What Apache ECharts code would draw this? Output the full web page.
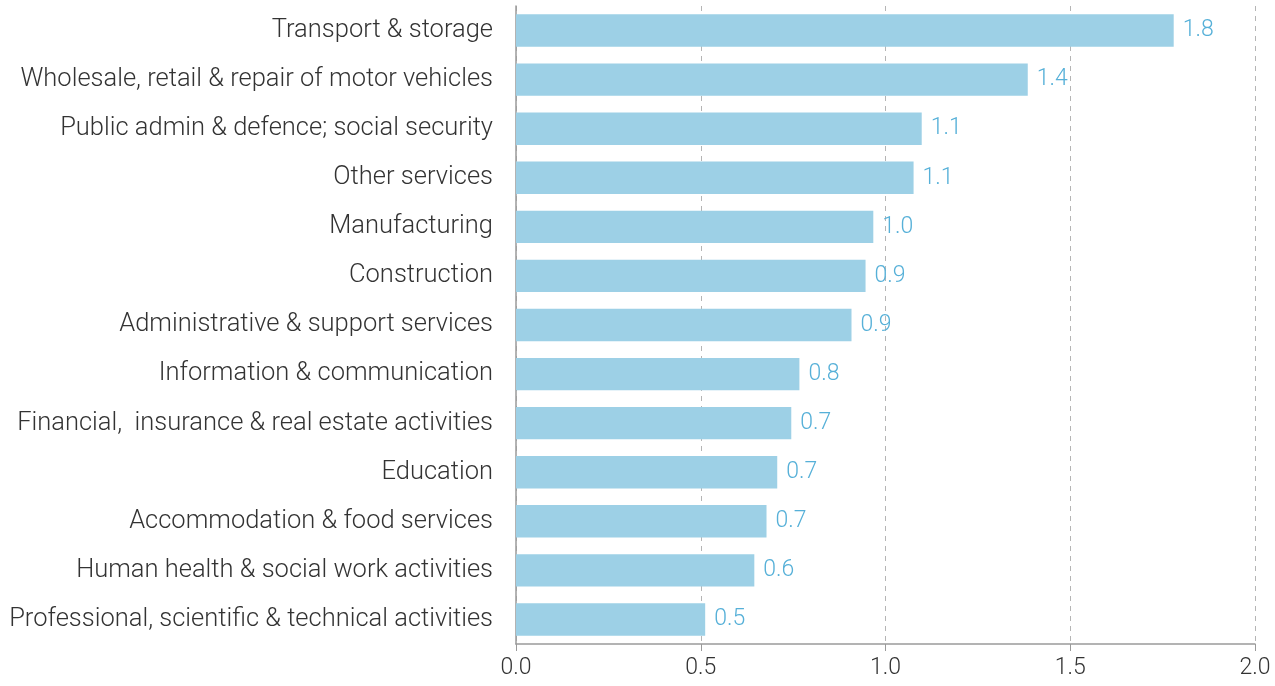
<!DOCTYPE html>
<html>
<head>
<meta charset="utf-8">
<style>
  html, body { margin: 0; padding: 0; background: #ffffff; }
  #chart { width: 1275px; height: 686px; }
</style>
<script src="https://cdn.jsdelivr.net/npm/echarts@6/dist/echarts.min.js"></script>
</head>
<body>
<div id="chart"></div>
<script>
// Sectors, listed top to bottom
const categories = [
  'Transport & storage',
  'Wholesale, retail & repair of motor vehicles',
  'Public admin & defence; social security',
  'Other services',
  'Manufacturing',
  'Construction',
  'Administrative & support services',
  'Information & communication',
  'Financial,  insurance & real estate activities',
  'Education',
  'Accommodation & food services',
  'Human health & social work activities',
  'Professional, scientific & technical activities'
];

// Value per sector, same order
const values = [1.78, 1.385, 1.098, 1.076, 0.967, 0.946, 0.908, 0.767, 0.745, 0.707, 0.678, 0.645, 0.512];

// Value axis ticks
const xTicks = [0, 0.5, 1.0, 1.5, 2.0];

const chart = echarts.init(document.getElementById('chart'), null, { renderer: 'canvas' });

const font = 'Roboto, "Noto Sans", sans-serif';

chart.setOption({
  animation: false,
  backgroundColor: '#ffffff',
  grid: { left: 516, right: 20, top: 6, bottom: 42, containLabel: false },
  xAxis: {
    type: 'value',
    min: xTicks[0],
    max: xTicks[xTicks.length - 1],
    interval: xTicks[1] - xTicks[0],
    axisLine: { show: true, lineStyle: { color: '#9a9a9a', width: 1.5 } },
    axisTick: { show: true, length: 7, lineStyle: { color: '#9a9a9a', width: 1 } },
    axisLabel: {
      margin: 13,
      color: '#333333',
      fontFamily: font,
      fontWeight: 300,
      fontSize: 23,
      formatter: v => v.toFixed(1)
    },
    splitLine: { show: true, lineStyle: { color: '#b5b5b5', type: [5, 5], width: 1 } }
  },
  yAxis: {
    type: 'category',
    inverse: true,
    data: categories,
    axisLine: { show: true, lineStyle: { color: '#9a9a9a', width: 1.5 } },
    axisTick: { show: false },
    axisLabel: {
      margin: 23,
      color: '#333333',
      fontFamily: font,
      fontWeight: 300,
      fontSize: 25.5
    }
  },
  series: [{
    type: 'bar',
    data: values,
    barCategoryGap: '34%',
    itemStyle: { color: '#9dd0e6' },
    label: {
      show: true,
      position: 'right',
      distance: 9,
      color: '#56b0d8',
      fontFamily: font,
      fontWeight: 300,
      fontSize: 23,
      formatter: p => p.value.toFixed(1)
    }
  }]
});
</script>
</body>
</html>
